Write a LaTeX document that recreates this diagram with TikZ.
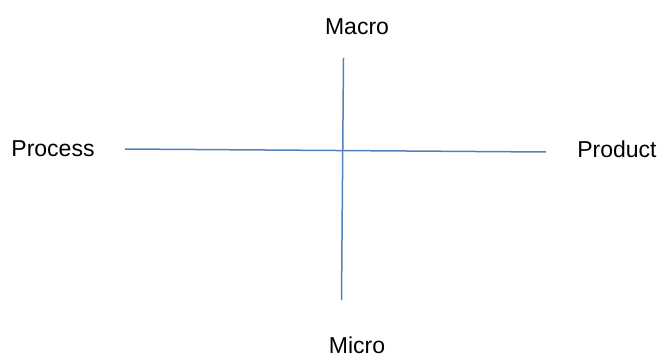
\documentclass[tikz,border=0pt]{standalone}
\usepackage{fontspec}
\setmainfont{Liberation Sans}
\definecolor{axisblue}{RGB}{79,129,189}
\begin{document}
\begin{tikzpicture}[x=1pt,y=-1pt,
  lbl/.style={font=\fontsize{23}{26}\selectfont,inner sep=0pt},
  axis/.style={draw=axisblue,line width=1.5pt}]
\useasboundingbox (0,0) rectangle (660,363);
\node (macro) [lbl] at (357,27) {Macro};
\node (micro) [lbl] at (357,345) {Micro};
\node (proc) [lbl] at (53,149) {Process};
\node (prod) [lbl] at (617,149) {Product};
\coordinate (l) at (125,149);
\coordinate (r) at (546,152);
\coordinate (t) at (343.5,58);
\coordinate (b) at (341.5,300);
\draw [axis] (l)--(r);
\draw [axis] (t)--(b);
\end{tikzpicture}
\end{document}
